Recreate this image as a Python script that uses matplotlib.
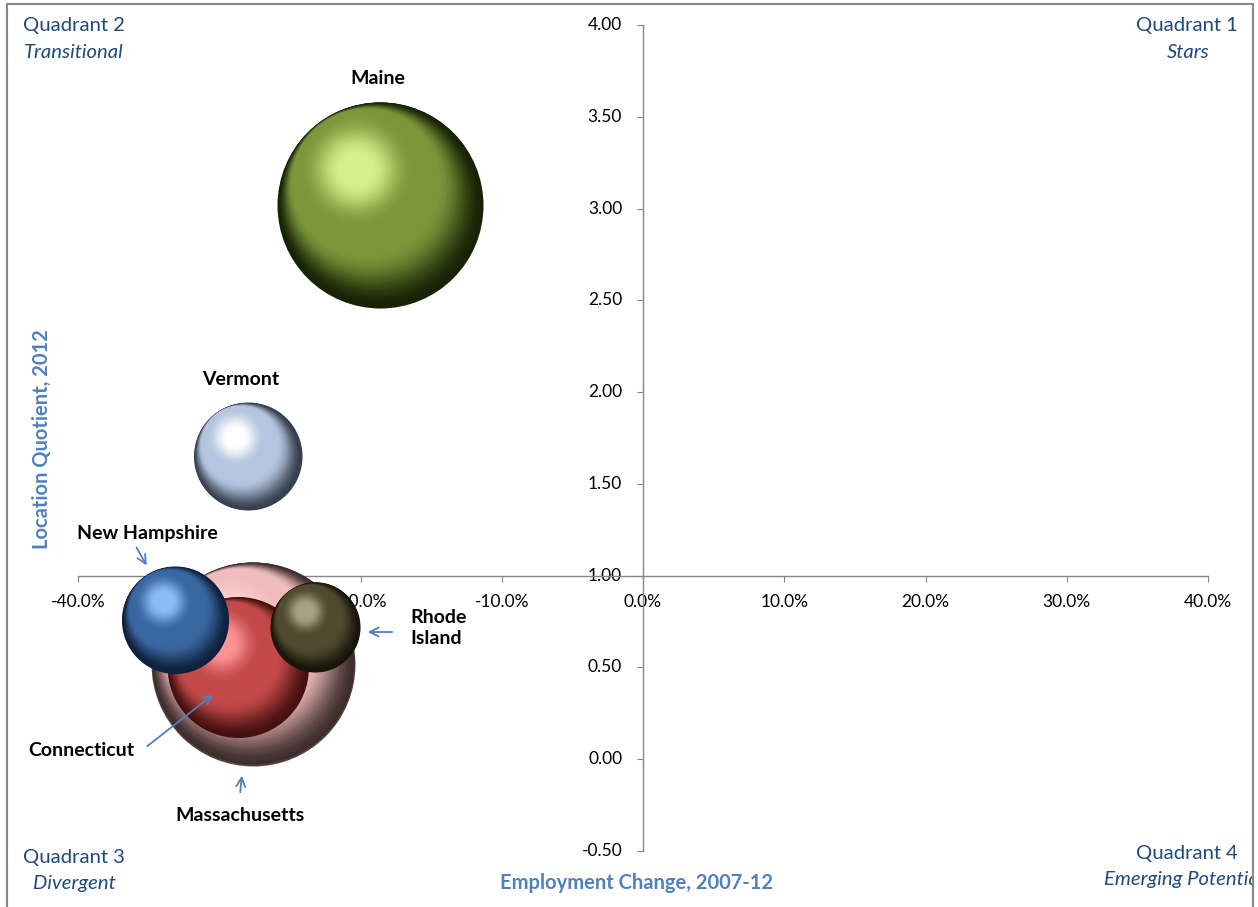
import numpy as np
import matplotlib.pyplot as plt
from matplotlib import transforms
from matplotlib.colors import to_rgb
from matplotlib.patches import Rectangle

# data
states = ['Maine', 'Vermont', 'Massachusetts', 'Connecticut', 'New Hampshire', 'Rhode Island']
emp_change = [-18.6, -28.0, -27.6, -28.7, -33.1, -23.2]   # %, 2007-12
loc_quot = [3.02, 1.65, 0.52, 0.50, 0.76, 0.72]
bubble_size = [100, 27.5, 98, 46.8, 27, 19.1]
x_ticks = [-40, -30, -20, -10, 0, 10, 20, 30, 40]
y_ticks = [-0.5, 0, 0.5, 1.0, 1.5, 2.0, 2.5, 3.0, 3.5, 4.0]

# shading colours: edge, body, highlight
shades = {
    'Maine': ('#182205', '#7a983a', '#d4f08c'),
    'Vermont': ('#363f4e', '#b3c5df', '#ffffff'),
    'Massachusetts': ('#3e2c2c', '#f0bcbc', '#ffdcdc'),
    'Connecticut': ('#461010', '#c44a4a', '#ff9494'),
    'New Hampshire': ('#0e203a', '#3a67a2', '#8ebdf5'),
    'Rhode Island': ('#17150a', '#4f4a30', '#a6a284'),
}
alphas = {'Massachusetts': 0.9}

plt.rcParams['font.family'] = ['Lato', 'DejaVu Sans']

fig = plt.figure(figsize=(12.58, 9.07), dpi=100)
ax = fig.add_axes([78 / 1258, 1 - 851 / 907, 1130 / 1258, 826 / 907])
ax.set_xlim(-40, 40)
ax.set_ylim(-0.5, 4.0)

R_MAX = 103 * 72 / 100  # largest bubble radius, points


def mix(c1, c2, t):
    a, b = np.array(to_rgb(c1)), np.array(to_rgb(c2))
    return tuple(np.clip(a + (b - a) * t, 0, 1))


def smooth(t):
    t = min(max(t, 0.0), 1.0)
    return t * t * (3 - 2 * t)


def sphere(x, y, size, cols, alpha=1.0, z=3):
    # stacked discs shifted up-left give a shaded ball
    R = R_MAX * np.sqrt(size / max(bubble_size))
    n = 90
    ux, uy = -0.55, 0.835
    for i in range(n):
        t = i / (n - 1)
        r = R * (1 - 0.85 * t)
        d = min(0.92 * (R - r), 0.42 * R)
        if t < 0.35:
            c = mix(cols[0], cols[1], smooth(t / 0.35))
        else:
            c = mix(cols[1], cols[2], smooth((t - 0.5) / 0.5) ** 1.2)
        tr = transforms.offset_copy(ax.transData, fig=fig, x=ux * d, y=uy * d, units='points')
        ax.scatter([x], [y], s=(2 * r) ** 2, color=c, lw=0, transform=tr,
                   alpha=alpha if i == 0 else 1.0, zorder=z + i * 0.001)


for k, st in enumerate(states):
    sphere(emp_change[k], loc_quot[k], bubble_size[k], shades[st], alphas.get(st, 1.0), z=3 + k)

# axes crossing at (0, 1)
for s in ['top', 'right']:
    ax.spines[s].set_visible(False)
ax.spines['left'].set_position(('data', 0))
ax.spines['bottom'].set_position(('data', 1.0))
for s in ['left', 'bottom']:
    ax.spines[s].set_color('#868686')
    ax.spines[s].set_linewidth(1.0)
    ax.spines[s].set_zorder(2)
ax.set_xticks(x_ticks)
ax.set_xticklabels([f'{v:.1f}%' for v in x_ticks])
ax.set_yticks(y_ticks)
ax.set_yticklabels([f'{v:.2f}' for v in y_ticks])
ax.tick_params(direction='out', length=4, color='#868686', labelsize=12.5, labelcolor='black')
ax.tick_params(axis='x', pad=9)
ax.tick_params(axis='y', pad=11)
for lab in ax.get_yticklabels():
    lab.set_verticalalignment('center')

# state labels
lbl = dict(fontsize=14, fontweight='bold', color='black', zorder=20)
ax.text(-18.76, 3.71, 'Maine', ha='center', va='center', **lbl)
ax.text(-28.46, 2.066, 'Vermont', ha='center', va='center', **lbl)
ax.text(-35.12, 1.227, 'New Hampshire', ha='center', va='center', **lbl)
ax.text(-16.5, 0.715, 'Rhode\nIsland', ha='left', va='center', linespacing=1.25, **lbl)
ax.text(-39.8, 0.05, 'Connecticut', ha='center', va='center', **lbl)
ax.text(-28.53, -0.309, 'Massachusetts', ha='center', va='center', **lbl)

arr = dict(arrowstyle='->', color='#4f81bd', lw=1.3, mutation_scale=16)
ax.annotate('', xy=(-35.04, 1.042), xytext=(-35.96, 1.167), arrowprops=arr, zorder=20)
ax.annotate('', xy=(-19.68, 0.693), xytext=(-17.56, 0.693), arrowprops=arr, zorder=20)
ax.annotate('', xy=(-30.3, 0.361), xytext=(-35.26, 0.061), arrowprops=arr, zorder=20)
ax.annotate('', xy=(-28.39, -0.075), xytext=(-28.53, -0.195), arrowprops=arr, zorder=20)

# axis titles
fig.text(636 / 1258, 1 - 883 / 907, 'Employment Change, 2007-12', ha='center', va='center',
         fontsize=14.5, fontweight='bold', color='#4f81bd')
fig.text(42 / 1258, 1 - 439 / 907, 'Location Quotient, 2012', ha='center', va='center',
         rotation=90, fontsize=14.5, fontweight='bold', color='#4f81bd')

# quadrant labels
qc = '#1f497d'
qfs = 14.6
clip = transforms.TransformedBbox(transforms.Bbox([[0, 0], [1252 / 1258, 1]]), fig.transFigure)
fig.text(74 / 1258, 1 - 25 / 907, 'Quadrant 2', ha='center', va='center', fontsize=qfs, color=qc)
fig.text(74 / 1258, 1 - 52 / 907, 'Transitional', ha='center', va='center', fontsize=qfs,
         style='italic', color=qc)
fig.text(1238 / 1258, 1 - 25 / 907, 'Quadrant 1', ha='right', va='center', fontsize=qfs, color=qc)
fig.text(1188 / 1258, 1 - 52 / 907, 'Stars', ha='center', va='center', fontsize=qfs,
         style='italic', color=qc)
fig.text(74 / 1258, 1 - 858 / 907, 'Quadrant 3', ha='center', va='center', fontsize=qfs, color=qc)
fig.text(74 / 1258, 1 - 884 / 907, 'Divergent', ha='center', va='center', fontsize=qfs,
         style='italic', color=qc)
fig.text(1238 / 1258, 1 - 854 / 907, 'Quadrant 4', ha='right', va='center', fontsize=qfs, color=qc)
# the reference chart cuts this label at its right border
t4 = fig.text(1104 / 1258, 1 - 880 / 907, 'Emerging Potential', ha='left', va='center',
              fontsize=qfs, style='italic', color=qc)
t4.set_clip_box(clip)
t4.set_clip_on(True)

# chart border
fig.patches.append(Rectangle((7 / 1258, -0.02), 1246 / 1258, 1.02 - 4 / 907, transform=fig.transFigure,
                             fill=False, edgecolor='#888888', lw=1.5))

fig.savefig('out.png', dpi=100)
